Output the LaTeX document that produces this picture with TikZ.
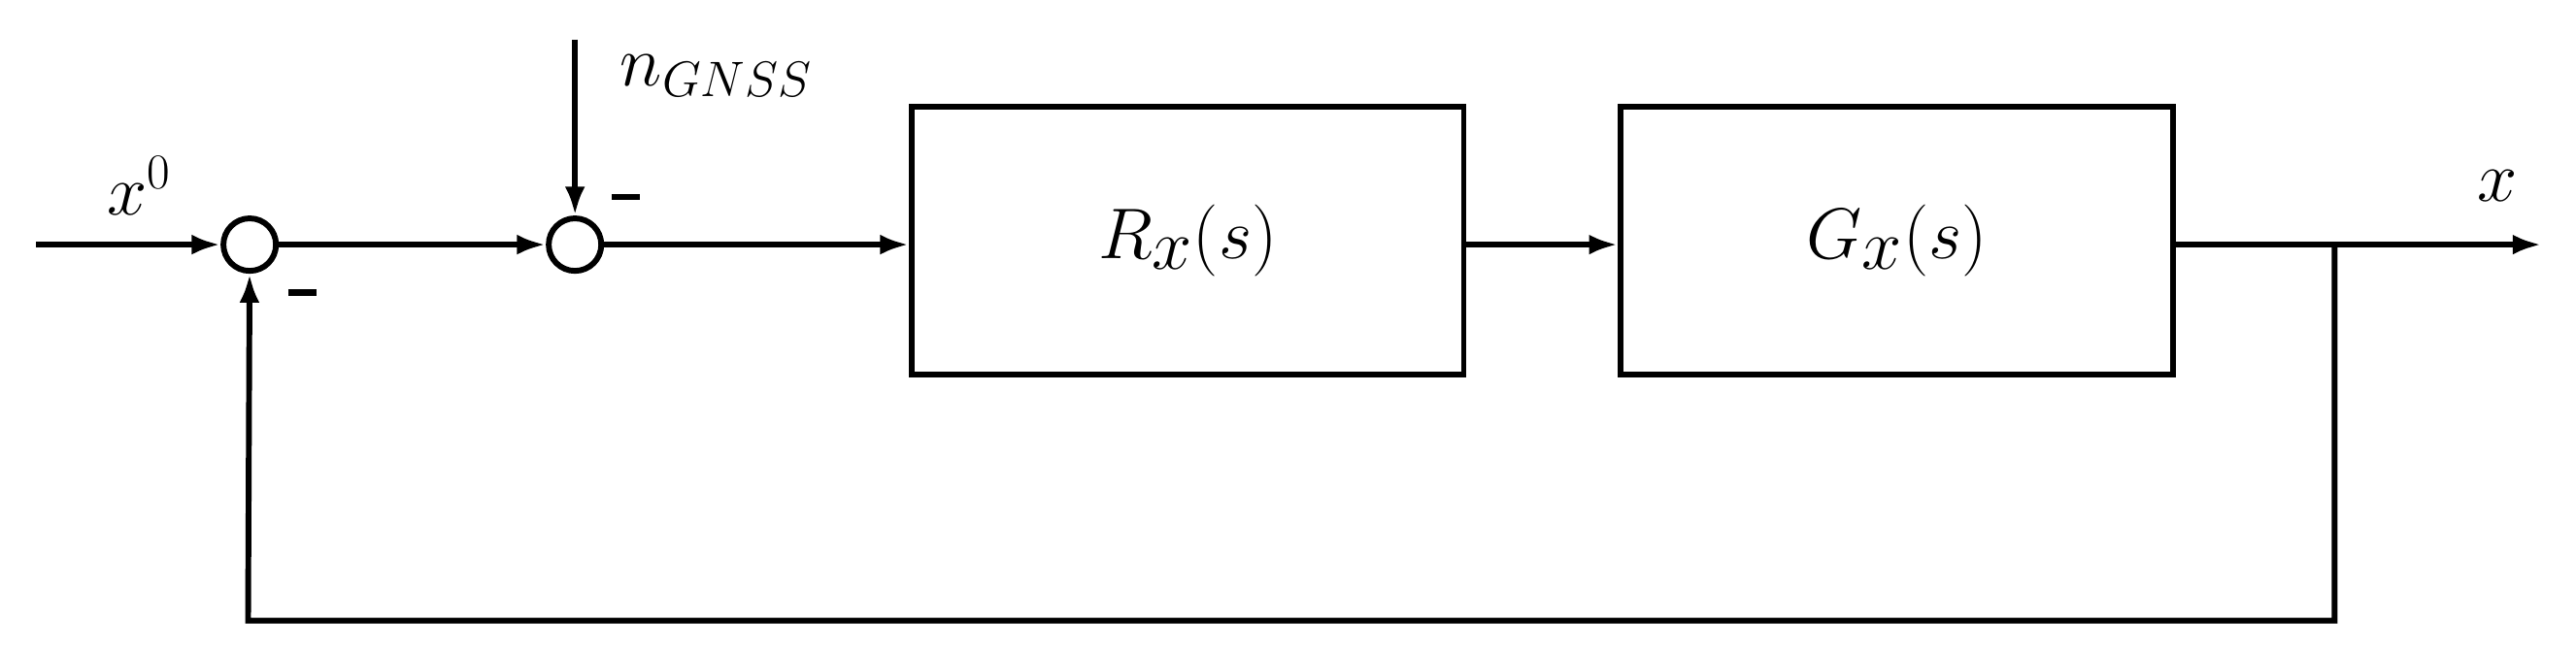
\documentclass[tikz,border=0pt]{standalone}
\usetikzlibrary{arrows.meta}
\begin{document}
\begin{tikzpicture}[x=0.02cm,y=-0.02cm,line width=2pt,
  sum/.style={circle,draw,minimum size=0.64cm,inner sep=0pt},
  blk/.style={draw,rectangle,minimum width=6.72cm,minimum height=3.26cm,font=\fontsize{38}{44}\selectfont},
  lbl/.style={font=\fontsize{27}{32}\selectfont},
  arr/.style={-{Latex[length=10pt,width=7pt]}}]
\useasboundingbox (0,0) rectangle (1568,398);
\coordinate (in) at (22,149);
\node[sum] (s1) at (152,149) {};
\node[sum] (s2) at (350,149) {};
\coordinate (n) at (350,24);
\node[blk] (R) at (723,146.5) {$R_x(s)$};
\node[blk] (G) at (1154.5,146.5) {$G_x(s)$};
\coordinate (br) at (1421,149);
\coordinate (out) at (1547,149);
\coordinate (c1) at (1421,378);
\coordinate (c2) at (151,378);
\draw[arr] (in) -- (s1);
\draw[arr] (s1) -- (s2);
\draw[arr] (n) -- (s2);
\draw[arr] (s2) -- (R.west |- s2);
\draw[arr] (R.east |- s2) -- (G.west |- s2);
\draw[arr] (G.east |- s2) -- (out);
\draw[arr] (br) -- (c1) -- (c2) -- (s1);
\node[lbl] (lx0) at (85,113) {$x^0$};
\node[lbl,anchor=west] (ln) at (370,46) {$n_{GNSS}$};
\node[lbl] (lx) at (1520,113) {$x$};
\node (m1) at (381,120) {\rule{0.34cm}{0.08cm}};
\node (m2) at (184,178) {\rule{0.34cm}{0.08cm}};
\end{tikzpicture}
\end{document}
